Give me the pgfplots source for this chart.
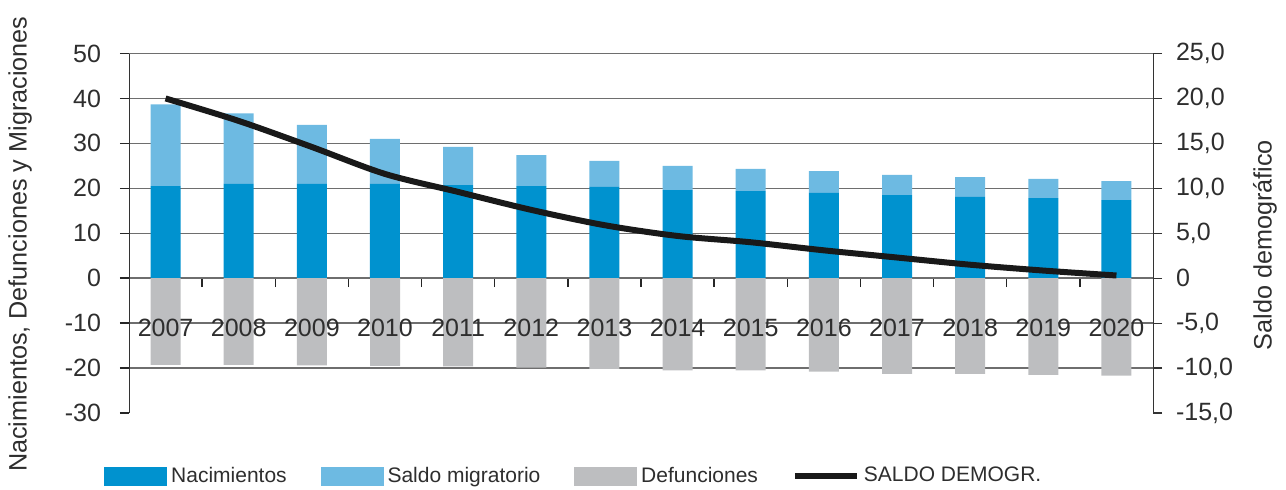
\documentclass[border=0pt]{standalone}
\usepackage{pgfplots}
\pgfplotsset{compat=1.18}
\usepackage{fontspec}
\setmainfont{Liberation Sans}

\definecolor{nac}{HTML}{0092CF}
\definecolor{mig}{HTML}{6DBAE2}
\definecolor{def}{HTML}{BDBEC0}
\definecolor{txt}{HTML}{2E2E2E}
\definecolor{gridc}{HTML}{6E6E6E}

\pgfplotsset{
  boxleg/.style={legend image code/.code={\fill[#1] (0pt,-4.5pt) rectangle (31pt,4.5pt);}},
}

\begin{document}
\begin{tikzpicture}
\useasboundingbox (-64.5pt,-38pt) rectangle (578.5pt,206.5pt);

% bars, left axis
\begin{axis}[
  scale only axis, width=512pt, height=179.75pt,
  xmin=-0.5, xmax=13.5, ymin=-30, ymax=50,
  axis y line*=left, axis x line*=middle,
  x axis line style={-, draw=gridc},
  y axis line style={-, draw=black!80},
  xtick={0.5,1.5,...,12.5}, xticklabels={},
  ytick={-20,-10,...,50},
  yticklabels={-20,-10,0,10,20,30,40,50},
  extra y ticks={-30}, extra y tick labels={-30},
  extra y tick style={grid=none},
  ymajorgrids, grid style={gridc, line width=0.7pt},
  tick align=outside, major tick length=4.5pt,
  tick style={black!85, line width=0.7pt},
  ticklabel style={font=\fontsize{12.5}{15}\selectfont, text=txt},
  yticklabel style={xshift=-6pt},
  ylabel={Nacimientos, Defunciones y Migraciones},
  ylabel style={font=\fontsize{12.6}{14}\selectfont, text=txt,
    at={(axis description cs:0,0.5)}, anchor=center, yshift=54.5pt, xshift=-5.5pt},
  ybar stacked, bar width=15pt,
]
\addplot[fill=nac, draw=none] coordinates {
  (0,20.5) (1,21.0) (2,21.0) (3,21.0) (4,20.7) (5,20.5) (6,20.3)
  (7,19.6) (8,19.4) (9,19.0) (10,18.5) (11,18.1) (12,17.8) (13,17.4)};
\addplot[fill=mig, draw=none] coordinates {
  (0,18.2) (1,15.7) (2,13.1) (3,10.0) (4,8.5) (5,6.9) (6,5.8)
  (7,5.4) (8,4.9) (9,4.8) (10,4.5) (11,4.4) (12,4.3) (13,4.2)};
\end{axis}

% defunciones, same left scale
\begin{axis}[
  scale only axis, width=512pt, height=179.75pt,
  xmin=-0.5, xmax=13.5, ymin=-30, ymax=50,
  hide x axis, hide y axis,
  ybar, bar width=15pt, bar shift=0pt,
]
\addplot[fill=def, draw=none] coordinates {
  (0,-19.3) (1,-19.3) (2,-19.4) (3,-19.5) (4,-19.6) (5,-19.9) (6,-20.2)
  (7,-20.5) (8,-20.5) (9,-20.8) (10,-21.3) (11,-21.3) (12,-21.5) (13,-21.7)};
\end{axis}

% saldo demografico, right axis
\begin{axis}[
  scale only axis, width=512pt, height=179.75pt,
  xmin=-0.5, xmax=13.5, ymin=-15, ymax=25,
  axis y line*=right, axis x line*=middle,
  x axis line style={draw=none},
  y axis line style={-, draw=black!80},
  xtick={0,...,13},
  xticklabels={2007,2008,2009,2010,2011,2012,2013,2014,2015,2016,2017,2018,2019,2020},
  xtick style={draw=none},
  xticklabel style={anchor=center, yshift=-20.5pt},
  ytick={-15,-10,...,25},
  yticklabels={{-15,0},{-10,0},{-5,0},0,{5,0},{10,0},{15,0},{20,0},{25,0}},
  tick align=outside, major tick length=4.5pt,
  ytick style={black!80, line width=0.6pt},
  ticklabel style={font=\fontsize{12.5}{15}\selectfont, text=txt},
  yticklabel style={xshift=3.5pt},
  ylabel={Saldo demográfico},
  ylabel style={font=\fontsize{12.6}{14}\selectfont, text=txt,
    at={(axis description cs:1,0.5)}, anchor=center, yshift=-56pt, xshift=-6pt},
  legend style={at={(axis description cs:0,0)}, anchor=west,
    xshift=-12.5pt, yshift=-31.5pt, draw=none, inner sep=0pt,
    font=\fontsize{10.5}{12}\selectfont, text=txt,
    /tikz/every even column/.append style={column sep=15pt}},
  legend columns=4,
]
\addlegendimage{boxleg=nac}
\addlegendentry{Nacimientos}
\addlegendimage{boxleg=mig}
\addlegendentry{Saldo migratorio}
\addlegendimage{boxleg=def}
\addlegendentry{Defunciones}
\addplot[color=black!90, line width=3pt, smooth, tension=0.5,
  legend image code/.code={\draw[black!90, line width=3pt] (0pt,0pt) -- (31pt,0pt);}]
  coordinates {
  (0,20.0) (1,17.5) (2,14.6) (3,11.6) (4,9.6) (5,7.6) (6,5.9)
  (7,4.7) (8,4.0) (9,3.1) (10,2.3) (11,1.5) (12,0.85) (13,0.3)};
\addlegendentry{SALDO DEMOGR.}
\end{axis}
\end{tikzpicture}
\end{document}
